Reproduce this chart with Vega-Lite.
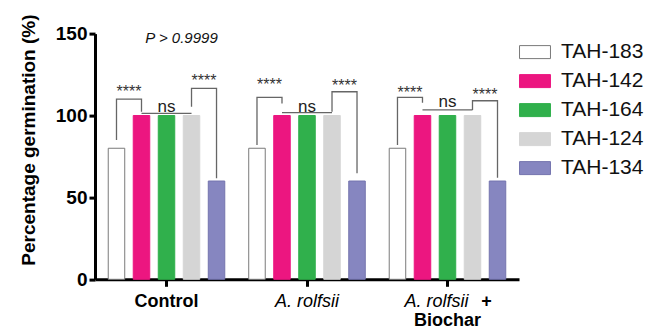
{
  "$schema": "https://vega.github.io/schema/vega-lite/v6.json",
  "width": 424,
  "height": 245.7,
  "autosize": {"type": "none"},
  "padding": {"left": 95, "top": 33.6, "right": 128, "bottom": 51.7},
  "background": "white",
  "config": {"font": "Liberation Sans", "view": {"stroke": null}, "legend": {"labelFontSize": 21}},
  "datasets": {
    "bars": [
      {"cond": "Control", "iso": "TAH-183", "pct": 80},
      {"cond": "Control", "iso": "TAH-142", "pct": 100},
      {"cond": "Control", "iso": "TAH-164", "pct": 100},
      {"cond": "Control", "iso": "TAH-124", "pct": 100},
      {"cond": "Control", "iso": "TAH-134", "pct": 60},
      {"cond": "A. rolfsii", "iso": "TAH-183", "pct": 80},
      {"cond": "A. rolfsii", "iso": "TAH-142", "pct": 100},
      {"cond": "A. rolfsii", "iso": "TAH-164", "pct": 100},
      {"cond": "A. rolfsii", "iso": "TAH-124", "pct": 100},
      {"cond": "A. rolfsii", "iso": "TAH-134", "pct": 60},
      {"cond": "A. rolfsii + Biochar", "iso": "TAH-183", "pct": 80},
      {"cond": "A. rolfsii + Biochar", "iso": "TAH-142", "pct": 100},
      {"cond": "A. rolfsii + Biochar", "iso": "TAH-164", "pct": 100},
      {"cond": "A. rolfsii + Biochar", "iso": "TAH-124", "pct": 100},
      {"cond": "A. rolfsii + Biochar", "iso": "TAH-134", "pct": 60}
    ],
    "brackets": [
      {"cond": "Control", "id": "c1", "ord": 1, "iso": "TAH-183", "y": 85},
      {"cond": "Control", "id": "c1", "ord": 2, "iso": "TAH-183", "y": 110},
      {"cond": "Control", "id": "c1", "ord": 3, "iso": "TAH-142", "y": 110},
      {"cond": "Control", "id": "c1", "ord": 4, "iso": "TAH-142", "y": 102.3},
      {"cond": "Control", "id": "c2", "ord": 1, "iso": "TAH-142", "y": 101.3},
      {"cond": "Control", "id": "c2", "ord": 2, "iso": "TAH-124", "y": 101.3},
      {"cond": "Control", "id": "c3", "ord": 1, "iso": "TAH-124", "y": 105.4},
      {"cond": "Control", "id": "c3", "ord": 2, "iso": "TAH-124", "y": 116.6},
      {"cond": "Control", "id": "c3", "ord": 3, "iso": "TAH-134", "y": 116.6},
      {"cond": "Control", "id": "c3", "ord": 4, "iso": "TAH-134", "y": 61.7},
      {"cond": "A. rolfsii", "id": "r1", "ord": 1, "iso": "TAH-183", "y": 82},
      {"cond": "A. rolfsii", "id": "r1", "ord": 2, "iso": "TAH-183", "y": 111.1},
      {"cond": "A. rolfsii", "id": "r1", "ord": 3, "iso": "TAH-142", "y": 111.1},
      {"cond": "A. rolfsii", "id": "r1", "ord": 4, "iso": "TAH-142", "y": 107.4},
      {"cond": "A. rolfsii", "id": "r2", "ord": 1, "iso": "TAH-142", "y": 101.7},
      {"cond": "A. rolfsii", "id": "r2", "ord": 2, "iso": "TAH-124", "y": 101.7},
      {"cond": "A. rolfsii", "id": "r3", "ord": 1, "iso": "TAH-124", "y": 102.3},
      {"cond": "A. rolfsii", "id": "r3", "ord": 2, "iso": "TAH-124", "y": 114.5},
      {"cond": "A. rolfsii", "id": "r3", "ord": 3, "iso": "TAH-134", "y": 114.5},
      {"cond": "A. rolfsii", "id": "r3", "ord": 4, "iso": "TAH-134", "y": 64.7},
      {"cond": "A. rolfsii + Biochar", "id": "b1", "ord": 1, "iso": "TAH-183", "y": 82},
      {"cond": "A. rolfsii + Biochar", "id": "b1", "ord": 2, "iso": "TAH-183", "y": 111.1},
      {"cond": "A. rolfsii + Biochar", "id": "b1", "ord": 3, "iso": "TAH-142", "y": 111.1},
      {"cond": "A. rolfsii + Biochar", "id": "b1", "ord": 4, "iso": "TAH-142", "y": 107.8},
      {"cond": "A. rolfsii + Biochar", "id": "b2", "ord": 1, "iso": "TAH-142", "y": 103.4},
      {"cond": "A. rolfsii + Biochar", "id": "b2", "ord": 2, "iso": "TAH-124", "y": 103.4},
      {"cond": "A. rolfsii + Biochar", "id": "b3", "ord": 1, "iso": "TAH-124", "y": 103.4},
      {"cond": "A. rolfsii + Biochar", "id": "b3", "ord": 2, "iso": "TAH-124", "y": 109},
      {"cond": "A. rolfsii + Biochar", "id": "b3", "ord": 3, "iso": "TAH-134", "y": 109},
      {"cond": "A. rolfsii + Biochar", "id": "b3", "ord": 4, "iso": "TAH-134", "y": 62}
    ],
    "stars": [
      {"cond": "Control", "iso": "TAH-183", "label": "****", "y": 114.5},
      {"cond": "Control", "iso": "TAH-124", "label": "****", "y": 121.2},
      {"cond": "A. rolfsii", "iso": "TAH-183", "label": "****", "y": 118.6},
      {"cond": "A. rolfsii", "iso": "TAH-124", "label": "****", "y": 118},
      {"cond": "A. rolfsii + Biochar", "iso": "TAH-183", "label": "****", "y": 113.9},
      {"cond": "A. rolfsii + Biochar", "iso": "TAH-124", "label": "****", "y": 112.5}
    ],
    "ns": [
      {"cond": "Control", "iso": "TAH-164", "label": "ns", "y": 105.4},
      {"cond": "A. rolfsii", "iso": "TAH-164", "label": "ns", "y": 105.4},
      {"cond": "A. rolfsii + Biochar", "iso": "TAH-164", "label": "ns", "y": 108.4}
    ],
    "pval": [
      {"cond": "Control", "iso": "TAH-164", "label": "P > 0.9999", "y": 147.3}
    ]
  },
  "layer": [
    {
      "data": {"name": "bars"},
      "mark": {"type": "bar", "strokeWidth": 1},
      "encoding": {
        "x": {
          "field": "cond", "type": "nominal",
          "scale": {"domain": ["Control", "A. rolfsii", "A. rolfsii + Biochar"], "paddingInner": 0.11, "paddingOuter": 0.064},
          "axis": {
            "orient": "bottom", "title": null, "labelAngle": 0,
            "domainColor": "#000", "domainWidth": 3,
            "tickColor": "#000", "tickWidth": 3, "tickSize": 7,
            "labelFontSize": 18, "labelColor": "#000", "labelPadding": 6,
            "labelExpr": "datum.value == 'Control' ? 'Control' : (datum.value == 'A. rolfsii' ? 'A. rolfsii' : '')",
            "labelFontWeight": {"condition": {"test": "datum.value == 'Control'", "value": "bold"}, "value": "normal"},
            "labelFontStyle": {"condition": {"test": "datum.value == 'Control'", "value": "normal"}, "value": "italic"}
          }
        },
        "xOffset": {
          "field": "iso", "type": "nominal",
          "scale": {"domain": ["TAH-183", "TAH-142", "TAH-164", "TAH-124", "TAH-134"], "paddingInner": 0.34, "paddingOuter": 0.17}
        },
        "y": {
          "field": "pct", "type": "quantitative",
          "scale": {"domain": [0, 150], "nice": false},
          "axis": {
            "title": "Percentage germination (%)", "values": [0, 50, 100, 150], "grid": false,
            "domainColor": "#000", "domainWidth": 3,
            "tickColor": "#000", "tickWidth": 3, "tickSize": 6,
            "labelFontSize": 19, "labelFontWeight": "bold", "labelColor": "#000", "labelPadding": 2,
            "titleFontSize": 19, "titleFontWeight": "bold", "titleColor": "#000",
            "titleX": -67, "titleY": 106, "titleAlign": "center", "titleBaseline": "middle", "titleAngle": -90
          }
        },
        "fill": {
          "field": "iso", "type": "nominal",
          "scale": {"domain": ["TAH-183", "TAH-142", "TAH-164", "TAH-124", "TAH-134"], "range": ["#ffffff", "#ec1680", "#30b04c", "#d5d5d5", "#8686c0"]},
          "legend": {"orient": "none", "legendX": 426.5, "legendY": 5, "title": null, "symbolType": "M-1.19,-0.5H1.19V0.5H-1.19Z", "symbolSize": 676, "symbolStrokeWidth": 1, "labelFontSize": 21, "labelOffset": 12.5, "rowPadding": 5, "labelColor": "#111", "symbolOpacity": 1}
        },
        "stroke": {
          "field": "iso", "type": "nominal",
          "scale": {"domain": ["TAH-183", "TAH-142", "TAH-164", "TAH-124", "TAH-134"], "range": ["#7a7a7a", "#ec1680", "#30b04c", "#d5d5d5", "#7474ae"]},
          "legend": {"orient": "none", "legendX": 426.5, "legendY": 5, "title": null, "symbolType": "M-1.19,-0.5H1.19V0.5H-1.19Z", "symbolSize": 676, "symbolStrokeWidth": 1, "labelFontSize": 21, "labelOffset": 12.5, "rowPadding": 5, "labelColor": "#111", "symbolOpacity": 1}
        }
      }
    },
    {
      "data": {"name": "brackets"},
      "mark": {"type": "line", "color": "#666666", "strokeWidth": 1.3, "interpolate": "linear"},
      "encoding": {
        "x": {
          "field": "cond", "type": "nominal",
          "axis": {
            "orient": "bottom", "title": null, "labelAngle": 0, "domain": false, "ticks": false, "tickSize": 0,
            "labelFontSize": 18, "labelFontWeight": "bold", "labelColor": "#000", "labelPadding": 32.5,
            "labelExpr": "datum.value == 'A. rolfsii + Biochar' ? 'Biochar' : ''"
          }
        },
        "xOffset": {
          "field": "iso", "type": "nominal",
          "scale": {"type": "point", "domain": ["TAH-183", "TAH-142", "TAH-164", "TAH-124", "TAH-134"], "padding": 0.5}
        },
        "y": {"field": "y", "type": "quantitative", "axis": null},
        "detail": {"field": "id"},
        "order": {"field": "ord", "type": "quantitative"}
      }
    },
    {
      "data": {"name": "stars"},
      "mark": {"type": "text", "fontSize": 16, "color": "#333333", "dx": 12.5, "baseline": "middle", "align": "center"},
      "encoding": {
        "x": {
          "field": "cond", "type": "nominal",
          "axis": {
            "orient": "bottom", "title": null, "labelAngle": 0, "domain": false, "ticks": false, "tickSize": 0,
            "labelFontSize": 18, "labelFontWeight": "bold", "labelColor": "#000", "labelPadding": 13,
            "labelOffset": 39,
            "labelExpr": "datum.value == 'A. rolfsii + Biochar' ? '+' : ''"
          }
        },
        "xOffset": {
          "field": "iso", "type": "nominal",
          "scale": {"type": "point", "domain": ["TAH-183", "TAH-142", "TAH-164", "TAH-124", "TAH-134"], "padding": 0.5}
        },
        "y": {"field": "y", "type": "quantitative", "axis": null},
        "text": {"field": "label"}
      }
    },
    {
      "data": {"name": "ns"},
      "mark": {"type": "text", "fontSize": 17, "color": "#222222", "baseline": "middle", "align": "center"},
      "encoding": {
        "x": {
          "field": "cond", "type": "nominal",
          "axis": {
            "orient": "bottom", "title": null, "labelAngle": 0, "domain": false, "ticks": false, "tickSize": 0,
            "labelFontSize": 18, "labelFontStyle": "italic", "labelColor": "#000", "labelPadding": 13,
            "labelOffset": -11,
            "labelExpr": "datum.value == 'A. rolfsii + Biochar' ? 'A. rolfsii' : ''"
          }
        },
        "xOffset": {
          "field": "iso", "type": "nominal",
          "scale": {"type": "point", "domain": ["TAH-183", "TAH-142", "TAH-164", "TAH-124", "TAH-134"], "padding": 0.5}
        },
        "y": {"field": "y", "type": "quantitative", "axis": null},
        "text": {"field": "label"}
      }
    },
    {
      "data": {"name": "pval"},
      "mark": {"type": "text", "fontSize": 15, "fontStyle": "italic", "color": "#111111", "dx": 15, "baseline": "middle", "align": "center"},
      "encoding": {
        "x": {"field": "cond", "type": "nominal", "axis": null},
        "xOffset": {
          "field": "iso", "type": "nominal",
          "scale": {"type": "point", "domain": ["TAH-183", "TAH-142", "TAH-164", "TAH-124", "TAH-134"], "padding": 0.5}
        },
        "y": {"field": "y", "type": "quantitative", "axis": null},
        "text": {"field": "label"}
      }
    }
  ],
  "resolve": {"axis": {"x": "independent", "y": "independent"}, "scale": {"xOffset": "independent"}}
}
